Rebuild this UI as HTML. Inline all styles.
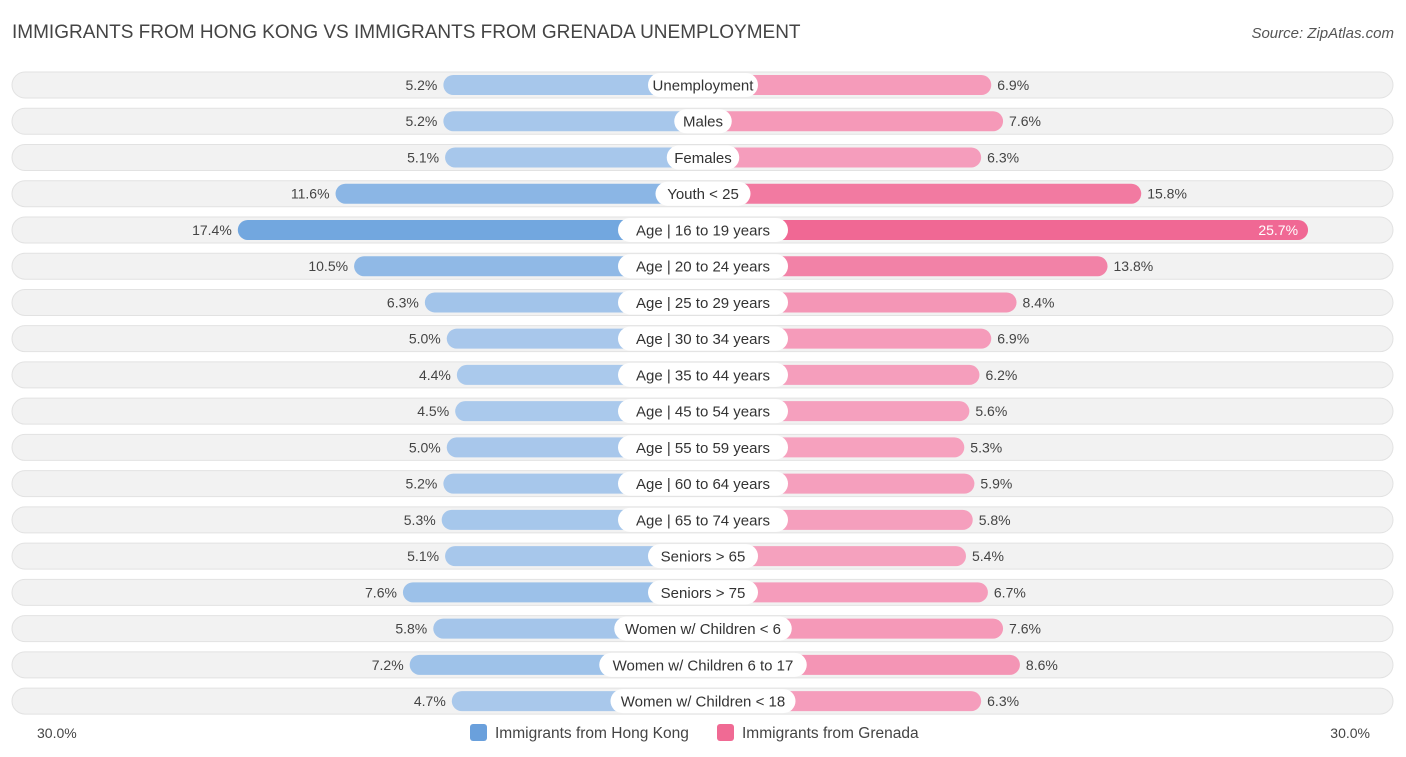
<!DOCTYPE html>
<html><head><meta charset="utf-8"><style>
body{margin:0;background:#fff;font-family:"Liberation Sans",sans-serif;}
#c{position:relative;width:1406px;height:757px;overflow:hidden;}
</style></head><body>
<div id="c">
<svg id="s" width="1406" height="757"></svg>
</div>
<script>
const categories=["Unemployment","Males","Females","Youth < 25","Age | 16 to 19 years","Age | 20 to 24 years","Age | 25 to 29 years","Age | 30 to 34 years","Age | 35 to 44 years","Age | 45 to 54 years","Age | 55 to 59 years","Age | 60 to 64 years","Age | 65 to 74 years","Seniors > 65","Seniors > 75","Women w/ Children < 6","Women w/ Children 6 to 17","Women w/ Children < 18"];
const hongKong=[5.2,5.2,5.1,11.6,17.4,10.5,6.3,5.0,4.4,4.5,5.0,5.2,5.3,5.1,7.6,5.8,7.2,4.7];
const grenada=[6.9,7.6,6.3,15.8,25.7,13.8,8.4,6.9,6.2,5.6,5.3,5.9,5.8,5.4,6.7,7.6,8.6,6.3];
const axisLabels=["30.0%","30.0%"];
const NS="http://www.w3.org/2000/svg";
const svg=document.getElementById('s');
const cx=703, off=172, k=16.85;
function ext(v){return off+v*k;}
function rowY(i){return 85+i*36.24;}
function mk(t,a,p){const e=document.createElementNS(NS,t);for(const q in a)e.setAttribute(q,a[q]);(p||svg).appendChild(e);return e;}
function mix(c1,c2,t){return 'rgb('+c1.map((v,i)=>Math.round(v+(c2[i]-v)*t)).join(',')+')';}
let tt=mk('text',{x:12,y:38,'font-size':19,fill:'#444'});tt.textContent="IMMIGRANTS FROM HONG KONG VS IMMIGRANTS FROM GRENADA UNEMPLOYMENT";

let src=mk('text',{x:1394,y:38,'font-size':15,fill:'#555','text-anchor':'end','font-style':'italic'});src.textContent="Source: ZipAtlas.com";

const maxV=Math.max(...hongKong,...grenada);
categories.forEach((c,i)=>{
 const y=rowY(i);
 const g=mk('g',{});
 
 mk('rect',{x:12,y:y-13,width:1381,height:26,rx:13,fill:'#f2f2f2',stroke:'#e2e2e2'},g);
 const lw=ext(hongKong[i]), rw=ext(grenada[i]);
 const tl=(hongKong[i]-4)/(maxV-4), tr=(grenada[i]-4)/(maxV-4);
 const lb=mk('rect',{x:cx-lw,y:y-10,width:lw,height:20,rx:10,fill:mix([172,202,236],[100,158,220],Math.min(1,tl*1.3))},g);
 
 const rb=mk('rect',{x:cx,y:y-10,width:rw,height:20,rx:10,fill:mix([246,166,194],[240,104,148],Math.min(1,tr*1.3))},g);
 
 const tw=c.length*7.5+20;
 mk('rect',{x:cx-tw/2,y:y-12,width:tw,height:24,rx:12,fill:'#fff'},g);
 const lt=mk('text',{x:cx,y:y+5.5,'font-size':15,fill:'#333','text-anchor':'middle'},g);lt.textContent=c;
 
 const vl=mk('text',{x:cx-lw-6,y:y+5,'font-size':14,fill:'#444','text-anchor':'end'},g);vl.textContent=hongKong[i].toFixed(1)+'%';
 
 const inside=grenada[i]>20;
 const vr=mk('text',{x:inside?cx+rw-10:cx+rw+6,y:y+5,'font-size':14,fill:inside?'#fff':'#444','text-anchor':inside?'end':'start'},g);vr.textContent=grenada[i].toFixed(1)+'%';
 
});
let a1=mk('text',{x:37,y:738,'font-size':14,fill:'#444'});a1.textContent=axisLabels[0];

let a2=mk('text',{x:1370,y:738,'font-size':14,fill:'#444','text-anchor':'end'});a2.textContent=axisLabels[1];

let l1=mk('rect',{x:470,y:724,width:17,height:17,rx:3,fill:'#6aa0dc'});
let t1=mk('text',{x:495,y:738,'font-size':15.5,fill:'#444'});t1.textContent="Immigrants from Hong Kong";
let l2=mk('rect',{x:717,y:724,width:17,height:17,rx:3,fill:'#f06a94'});
let t2=mk('text',{x:742,y:738,'font-size':15.5,fill:'#444'});t2.textContent="Immigrants from Grenada";
</script>
</body></html>
